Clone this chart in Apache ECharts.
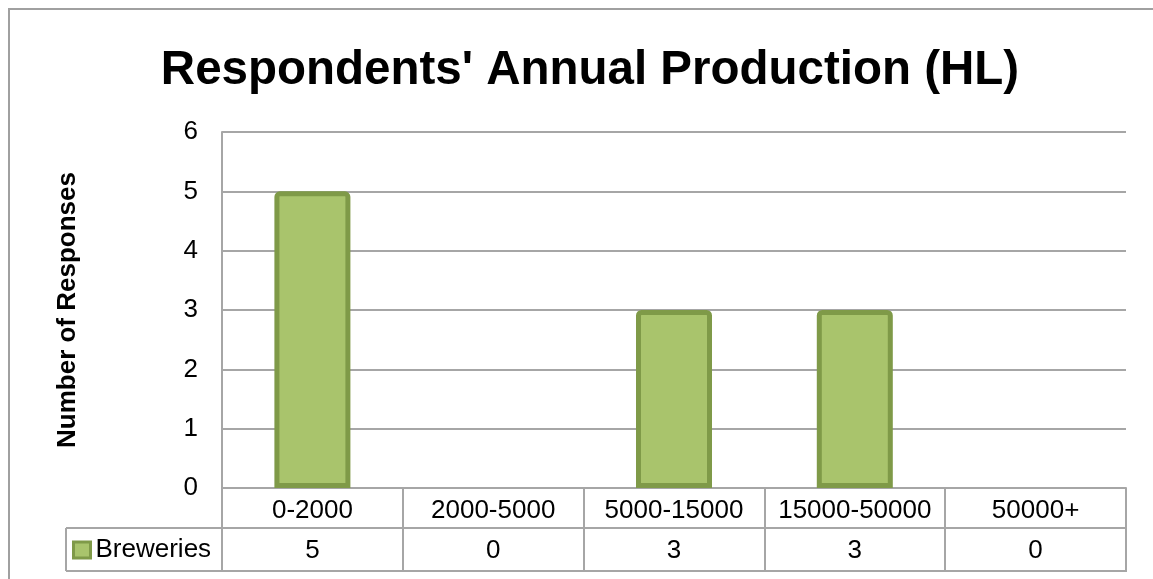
<!DOCTYPE html>
<html>
<head>
<meta charset="utf-8">
<script src="https://cdn.jsdelivr.net/npm/echarts@6/dist/echarts.min.js"></script>
<style>
  html, body { margin: 0; padding: 0; background: #fff; }
  #chart { width: 1153px; height: 579px; }
</style>
</head>
<body>
<div id="chart"></div>
<script>
// Annual production bands (hectolitres) and brewery counts per band
const categories = ['0-2000', '2000-5000', '5000-15000', '15000-50000', '50000+'];
const breweries = [5, 0, 3, 3, 0];
const seriesName = 'Breweries';
const yTicks = { min: 0, max: 6, interval: 1 };
const titleText = "Respondents' Annual Production (HL)";
const yAxisTitle = 'Number of Responses';

// Layout
const W = 1153, H = 579;
const GRID = { left: 222, top: 132, right: 27, bottom: 91 };
const ROW_H = 40;          // height of the category row of the data table
const ROW2_H = 43;         // height of the value row
const TABLE_LEFT = 66;
const FONT = '"Liberation Sans", Arial, sans-serif';
const LINE = '#A6A6A6';
const BAR_FILL = '#A9C46C';
const BAR_EDGE = '#7F9A48';
const BAR_BORDER = 5;

const chart = echarts.init(document.getElementById('chart'), null, { renderer: 'canvas' });

const axisY = H - GRID.bottom;            // y of the category axis
const row1Bottom = axisY + ROW_H;
const row2Bottom = row1Bottom + ROW2_H;
const gridRight = W - GRID.right;

// empty bands get no outline so nothing shows on the axis
const barData = breweries.map(v => v === 0
  ? { value: v, itemStyle: { borderWidth: 0 } }
  : v);

chart.setOption({
  animation: false,
  backgroundColor: '#fff',
  textStyle: { fontFamily: FONT },
  title: {
    text: titleText,
    left: 585,
    top: 42,
    textAlign: 'center',
    textStyle: { fontFamily: FONT, fontSize: 47.5, fontWeight: 'bold', color: '#000' }
  },
  legend: {
    data: [seriesName],
    left: 72,
    top: 537,
    padding: 0,
    itemWidth: 17,
    itemHeight: 16,
    itemGap: 5,
    icon: 'rect',
    itemStyle: { color: BAR_FILL, borderColor: BAR_EDGE, borderWidth: 3 },
    textStyle: { fontFamily: FONT, fontSize: 26, color: '#000' }
  },
  grid: { left: GRID.left, top: GRID.top, right: GRID.right, bottom: GRID.bottom, containLabel: false },
  xAxis: [
    {
      type: 'category',
      data: categories,
      position: 'bottom',
      boundaryGap: true,
      axisLine: { show: true, lineStyle: { color: LINE, width: 2 } },
      axisTick: { show: true, length: ROW_H + ROW2_H, inside: false, lineStyle: { color: LINE, width: 2 } },
      axisLabel: { margin: 10, fontFamily: FONT, fontSize: 26, color: '#000', interval: 0 },
      splitLine: { show: false }
    },
    {
      type: 'category',
      data: categories,
      position: 'bottom',
      offset: ROW_H,
      boundaryGap: true,
      axisLine: { show: true, lineStyle: { color: LINE, width: 2 } },
      axisTick: { show: false },
      axisLabel: {
        margin: 10, fontFamily: FONT, fontSize: 26, color: '#000', interval: 0,
        formatter: (v, i) => String(breweries[i])
      },
      splitLine: { show: false }
    }
  ],
  yAxis: {
    type: 'value',
    min: yTicks.min,
    max: yTicks.max,
    interval: yTicks.interval,
    name: yAxisTitle,
    nameLocation: 'middle',
    nameRotate: 90,
    nameGap: 141,
    nameTextStyle: { fontFamily: FONT, fontSize: 26, fontWeight: 'bold', color: '#000' },
    axisLine: { show: true, lineStyle: { color: LINE, width: 2 } },
    axisTick: { show: false },
    axisLabel: { margin: 24, fontFamily: FONT, fontSize: 26, color: '#000' },
    splitLine: { show: true, lineStyle: { color: LINE, width: 2 } }
  },
  series: [{
    name: seriesName,
    type: 'bar',
    xAxisIndex: 0,
    data: barData,
    barWidth: 76,
    itemStyle: { color: BAR_FILL, borderColor: BAR_EDGE, borderWidth: BAR_BORDER, borderRadius: [3, 3, 0, 0] }
  }],
  graphic: [
    // chart frame
    { type: 'rect', silent: true, z: -1,
      shape: { x: 9, y: 9, width: 1200, height: 700 },
      style: { fill: 'none', stroke: '#A0A0A0', lineWidth: 2 } },
    // data table: legend cell and bottom edge
    { type: 'line', silent: true,
      shape: { x1: TABLE_LEFT, y1: row1Bottom, x2: GRID.left, y2: row1Bottom },
      style: { stroke: LINE, lineWidth: 2 } },
    { type: 'line', silent: true,
      shape: { x1: TABLE_LEFT, y1: row2Bottom, x2: gridRight + 1, y2: row2Bottom },
      style: { stroke: LINE, lineWidth: 2 } },
    { type: 'line', silent: true,
      shape: { x1: TABLE_LEFT, y1: row1Bottom, x2: TABLE_LEFT, y2: row2Bottom },
      style: { stroke: LINE, lineWidth: 2 } }
  ]
});
</script>
</body>
</html>
